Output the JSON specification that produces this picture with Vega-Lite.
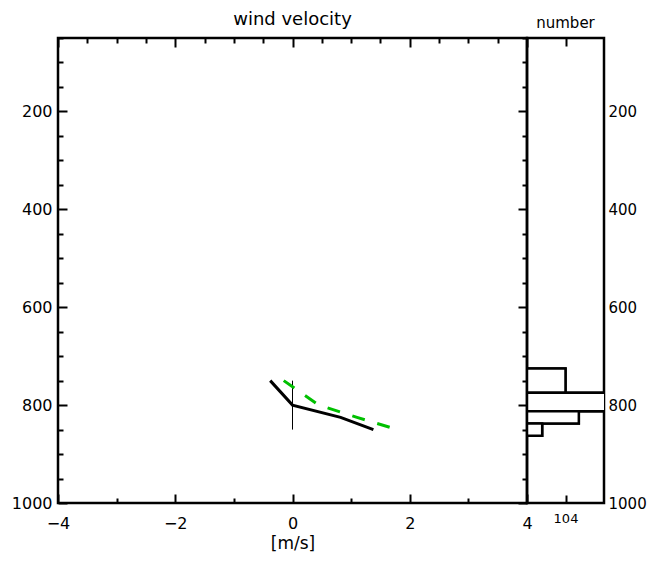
{
  "$schema": "https://vega.github.io/schema/vega-lite/v6.json",
  "background": "white",
  "padding": {"left": 10, "top": 9, "right": 45, "bottom": 0},
  "spacing": 0,
  "bounds": "flush",
  "config": {
    "font": "DejaVu Sans",
    "view": {"stroke": "black", "strokeWidth": 2.5},
    "axis": {"domain": false, "grid": false, "tickColor": "black", "tickWidth": 2, "labelColor": "black", "titleColor": "black", "labelFont": "DejaVu Sans", "titleFont": "DejaVu Sans", "titleFontWeight": "normal"},
    "title": {"font": "DejaVu Sans", "fontWeight": "normal", "color": "black", "anchor": "middle"}
  },
  "datasets": {
    "obs": [{"u": -0.38, "p": 750}, {"u": 0, "p": 800}, {"u": 0.82, "p": 825}, {"u": 1.38, "p": 850}],
    "model": [{"u": -0.15, "p": 750}, {"u": 0.45, "p": 800}, {"u": 1.1, "p": 825}, {"u": 1.79, "p": 850}],
    "spread": [{"u": 0, "p_lo": 750, "p_hi": 850}],
    "hist": [
      {"p0": 725, "p1": 775, "n": 104},
      {"p0": 775, "p1": 812.5, "n": 230},
      {"p0": 812.5, "p1": 837.5, "n": 140},
      {"p0": 837.5, "p1": 862.5, "n": 41}
    ]
  },
  "hconcat": [
    {
      "width": 469,
      "height": 465,
      "title": {"text": "wind velocity", "fontSize": 18, "offset": 8},
      "resolve": {"axis": {"x": "independent", "y": "independent"}},
      "layer": [
        {
          "data": {"name": "spread"},
          "mark": {"type": "rule", "color": "black", "strokeWidth": 1},
          "encoding": {
            "x": {"field": "u", "type": "quantitative",
              "scale": {"domain": [-4, 4], "nice": false, "zero": false},
              "axis": {"orient": "bottom", "values": [-4,-3.5,-3,-2.5,-2,-1.5,-1,-0.5,0,0.5,1,1.5,2,2.5,3,3.5,4],
                "tickSize": {"condition": {"test": "datum.value % 2 === 0", "value": -9}, "value": -5},
                "format": "d",
                "labelExpr": "datum.value % 2 === 0 ? datum.label : ''",
                "labelFontSize": 16, "labelPadding": 21, "labelFlush": false,
                "title": "[m/s]", "titleFontSize": 17, "titlePadding": 4}},
            "y": {"field": "p_lo", "type": "quantitative",
              "scale": {"domain": [50, 1000], "reverse": true, "nice": false, "zero": false},
              "axis": {"orient": "left", "values": [50,100,150,200,250,300,350,400,450,500,550,600,650,700,750,800,850,900,950,1000],
                "tickSize": {"condition": {"test": "datum.value % 200 === 0", "value": -9}, "value": -5},
                "format": "d",
                "labelExpr": "datum.value % 200 === 0 ? datum.label : ''",
                "labelFontSize": 16, "labelPadding": 15, "labelFlush": false, "title": null}},
            "y2": {"field": "p_hi"}
          }
        },
        {
          "data": {"name": "obs"},
          "mark": {"type": "line", "color": "black", "strokeWidth": 3},
          "encoding": {
            "x": {"field": "u", "type": "quantitative",
              "axis": {"orient": "top", "values": [-4,-3.5,-3,-2.5,-2,-1.5,-1,-0.5,0,0.5,1,1.5,2,2.5,3,3.5,4],
                "tickSize": {"condition": {"test": "datum.value % 2 === 0", "value": -9}, "value": -5},
                "labels": false, "title": null}},
            "y": {"field": "p", "type": "quantitative",
              "axis": {"orient": "right", "values": [50,100,150,200,250,300,350,400,450,500,550,600,650,700,750,800,850,900,950,1000],
                "tickSize": {"condition": {"test": "datum.value % 200 === 0", "value": -9}, "value": -5},
                "labels": false, "title": null}}
          }
        },
        {
          "data": {"name": "model"},
          "mark": {"type": "line", "color": "#00c000", "strokeWidth": 3, "strokeDash": [13, 13]},
          "encoding": {
            "x": {"field": "u", "type": "quantitative", "axis": null},
            "y": {"field": "p", "type": "quantitative", "axis": null}
          }
        }
      ]
    },
    {
      "width": 77,
      "height": 465,
      "title": {"text": "number", "fontSize": 15, "offset": 6},
      "data": {"name": "hist"},
      "resolve": {"axis": {"x": "independent", "y": "independent"}},
      "layer": [
        {
          "mark": {"type": "rect", "fill": "white", "stroke": "black", "strokeWidth": 2.5, "clip": true},
          "encoding": {
            "x": {"field": "n", "type": "quantitative",
              "scale": {"domain": [0, 208], "nice": false, "zero": false},
              "axis": {"orient": "bottom", "values": [104], "tickSize": -8, "labelFontSize": 13, "labelPadding": 17, "title": null}},
            "x2": {"datum": 0},
            "y": {"field": "p0", "type": "quantitative",
              "scale": {"domain": [50, 1000], "reverse": true, "nice": false, "zero": false},
              "axis": {"orient": "right", "values": [200, 400, 600, 800, 1000], "ticks": false, "format": "d", "labelFontSize": 15, "labelPadding": 4, "labelFlush": false, "title": null}},
            "y2": {"field": "p1"}
          }
        },
        {
          "mark": {"type": "rect", "fill": "white", "stroke": "black", "strokeWidth": 2.5, "clip": true},
          "encoding": {
            "x": {"field": "n", "type": "quantitative",
              "axis": {"orient": "top", "values": [104], "tickSize": -8, "labels": false, "title": null}},
            "x2": {"datum": 0},
            "y": {"field": "p0", "type": "quantitative", "axis": null},
            "y2": {"field": "p1"}
          }
        }
      ]
    }
  ]
}
